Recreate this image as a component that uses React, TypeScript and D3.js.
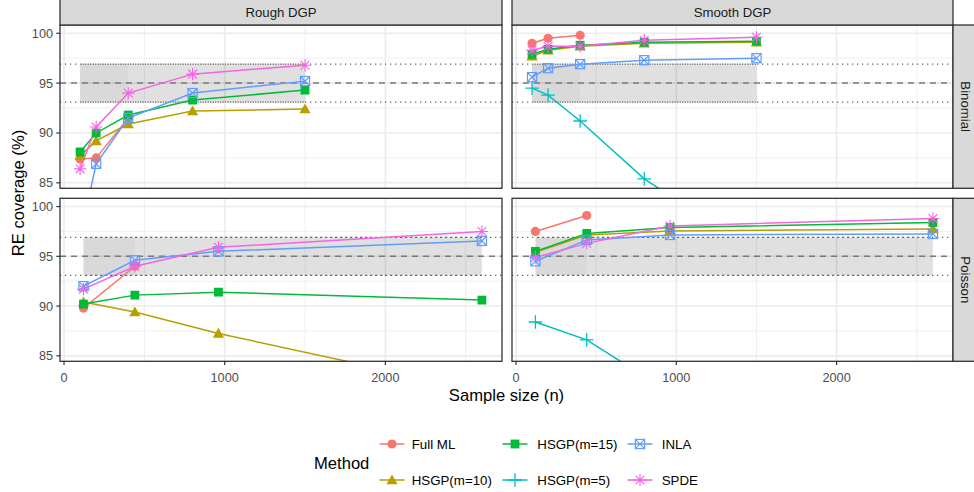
import React from 'react';
import * as d3 from 'd3';

// methods, in legend (alphabetical) order
const methods = ['Full ML', 'HSGP(m=10)', 'HSGP(m=15)', 'HSGP(m=5)', 'INLA', 'SPDE'];
const methodColors = ['#F8766D', '#B79F00', '#00BA38', '#00BFC4', '#619CFF', '#F564E3'];
const methodShapes = ['circle', 'triangle', 'square', 'plus', 'boxx', 'asterisk'];

const dgps = ['Rough DGP', 'Smooth DGP'];
const families = ['Binomial', 'Poisson'];

const nBinomial = [100, 200, 400, 800, 1500];
const nPoisson = [121, 441, 961, 2601];

// coverage (%) per method (rows follow `methods`), columns follow the n arrays
const roughBinomial = [
  [87.4, 87.5, 91.5, null, null],
  [87.7, 89.2, 90.9, 92.2, 92.4],
  [88.1, 90.0, 91.8, 93.3, 94.3],
  [null, null, null, null, null],
  [79.5, 86.9, 91.5, 94.0, 95.2],
  [86.4, 90.6, 94.0, 95.9, 96.8],
];
const smoothBinomial = [
  [99.0, 99.5, 99.8, null, null],
  [97.7, 98.3, 98.7, 99.0, 99.1],
  [97.9, 98.4, 98.8, 99.1, 99.2],
  [94.5, 93.8, 91.2, 85.4, 78.0],
  [95.6, 96.5, 96.9, 97.3, 97.5],
  [98.3, 98.7, 98.7, 99.3, 99.6],
];
const roughPoisson = [
  [89.8, 94.0, null, null],
  [90.4, 89.4, 87.25, 81.5],
  [90.2, 91.1, 91.4, 90.6],
  [null, null, null, null],
  [92.0, 94.6, 95.5, 96.55],
  [91.7, 94.0, 95.9, 97.5],
];
const smoothPoisson = [
  [97.5, 99.1, null, null],
  [95.4, 97.15, 97.55, 97.75],
  [95.5, 97.3, 97.9, 98.4],
  [88.4, 86.6, 81.3, 76.0],
  [94.5, 96.65, 97.15, 97.25],
  [94.9, 96.3, 98.05, 98.8],
];

const nominal = 95;
const mcBand = [93.09, 96.91];
const yTicks = [85, 90, 95, 100];
const yMinor = [87.5, 92.5, 97.5];
const xTicks = [0, 1000, 2000];
const xMinor = [500, 1500, 2500];

const panels = [
  { row: 0, col: 0, n: nBinomial, vals: roughBinomial },
  { row: 0, col: 1, n: nBinomial, vals: smoothBinomial },
  { row: 1, col: 0, n: nPoisson, vals: roughPoisson },
  { row: 1, col: 1, n: nPoisson, vals: smoothPoisson },
];

const panelX = [[60, 502], [512, 953]];
const panelY = [[25, 188.3], [198.3, 361.3]];
const font = '"Liberation Sans", Arial, sans-serif';

const allN = [...nBinomial, ...nPoisson];
const nExt = d3.extent(allN) as [number, number];
const pad = (nExt[1] - nExt[0]) * 0.05;
const xScales = panelX.map((r) => d3.scaleLinear().domain([nExt[0] - pad, nExt[1] + pad]).range(r));
const yScales = panelY.map((r) => d3.scaleLinear().domain([84.45, 100.83]).range([r[1], r[0]]));

function Marker({ shape, x, y, color }: { shape: string; x: number; y: number; color: string }) {
  switch (shape) {
    case 'circle':
      return <circle cx={x} cy={y} r={4.6} fill={color} />;
    case 'triangle':
      return <path d={`M${x},${y - 5.6}L${x + 5.6},${y + 4.2}L${x - 5.6},${y + 4.2}Z`} fill={color} />;
    case 'square':
      return <rect x={x - 4.4} y={y - 4.4} width={8.8} height={8.8} fill={color} />;
    case 'plus':
      return (
        <path d={`M${x - 6.8},${y}H${x + 6.8}M${x},${y - 6.8}V${y + 6.8}`} stroke={color} strokeWidth={1.3} />
      );
    case 'boxx':
      return (
        <g stroke={color} strokeWidth={1.2} fill="none">
          <rect x={x - 4.6} y={y - 4.6} width={9.2} height={9.2} />
          <path d={`M${x - 4.6},${y - 4.6}L${x + 4.6},${y + 4.6}M${x + 4.6},${y - 4.6}L${x - 4.6},${y + 4.6}`} />
        </g>
      );
    default:
      return (
        <path
          d={`M${x - 6.2},${y}H${x + 6.2}M${x},${y - 6.2}V${y + 6.2}M${x - 4.4},${y - 4.4}L${x + 4.4},${y + 4.4}M${x + 4.4},${y - 4.4}L${x - 4.4},${y + 4.4}`}
          stroke={color}
          strokeWidth={1.1}
        />
      );
  }
}

export default function App() {
  return (
    <svg
      width={974}
      height={492}
      style={{ position: 'absolute', left: 0, top: 0, background: '#fff', fontFamily: font }}
    >
      <defs>
        {panels.map((p, i) => (
          <clipPath id={`clip${i}`} key={i}>
            <rect
              x={panelX[p.col][0]}
              y={panelY[p.row][0]}
              width={panelX[p.col][1] - panelX[p.col][0]}
              height={panelY[p.row][1] - panelY[p.row][0]}
            />
          </clipPath>
        ))}
      </defs>

      {panels.map((p, i) => {
        const x = xScales[p.col];
        const y = yScales[p.row];
        const [x0, x1] = panelX[p.col];
        const [y0, y1] = panelY[p.row];
        const line = d3
          .line<[number, number | null]>()
          .defined((d) => d[1] != null)
          .x((d) => x(d[0]))
          .y((d) => y(d[1] as number));
        const present = p.vals.map((v) => v.some((d) => d != null));
        const fullML = p.vals[0];
        const fmLast = p.n[fullML.reduce((a, d, j) => (d != null ? j : a), 0)];
        return (
          <g key={i}>
            <rect x={x0} y={y0} width={x1 - x0} height={y1 - y0} fill="#fff" />
            <g clipPath={`url(#clip${i})`}>
              {xMinor.map((t) => (
                <line key={'xm' + t} x1={x(t)} x2={x(t)} y1={y0} y2={y1} stroke="#ebebeb" strokeWidth={0.8} />
              ))}
              {yMinor.map((t) => (
                <line key={'ym' + t} x1={x0} x2={x1} y1={y(t)} y2={y(t)} stroke="#ebebeb" strokeWidth={0.8} />
              ))}
              {xTicks.map((t) => (
                <line key={'x' + t} x1={x(t)} x2={x(t)} y1={y0} y2={y1} stroke="#ebebeb" strokeWidth={1.6} />
              ))}
              {yTicks.map((t) => (
                <line key={'y' + t} x1={x0} x2={x1} y1={y(t)} y2={y(t)} stroke="#ebebeb" strokeWidth={1.6} />
              ))}
              {/* Monte Carlo band */}
              <rect
                x={x(p.n[0])}
                y={y(mcBand[1])}
                width={x(p.n[p.n.length - 1]) - x(p.n[0])}
                height={y(mcBand[0]) - y(mcBand[1])}
                fill="#000"
                fillOpacity={0.12}
              />
              <rect
                x={x(p.n[0])}
                y={y(mcBand[1])}
                width={x(fmLast) - x(p.n[0])}
                height={y(mcBand[0]) - y(mcBand[1])}
                fill="#000"
                fillOpacity={0.03}
              />
              {mcBand.map((b) => (
                <g key={b}>
                  <line x1={x0} x2={x1} y1={y(b)} y2={y(b)} stroke="#666" strokeWidth={1.3} strokeDasharray="1.3 3.7" />
                  <line
                    x1={x(p.n[0])}
                    x2={x(p.n[p.n.length - 1])}
                    y1={y(b)}
                    y2={y(b)}
                    stroke="#666"
                    strokeWidth={1.3}
                    strokeDasharray="1.3 3.7"
                    strokeDashoffset={2.5}
                  />
                </g>
              ))}
              <line x1={x0} x2={x1} y1={y(nominal)} y2={y(nominal)} stroke="#7a7a7a" strokeWidth={1.5} strokeDasharray="6 5" />
              {p.vals.map((v, m) =>
                present[m] ? (
                  <path
                    key={'l' + m}
                    d={line(p.n.map((n, j) => [n, v[j]] as [number, number | null])) || ''}
                    fill="none"
                    stroke={methodColors[m]}
                    strokeWidth={1.5}
                  />
                ) : null
              )}
              {p.vals.map((v, m) =>
                v.map((d, j) =>
                  d == null ? null : (
                    <Marker key={'p' + m + '-' + j} shape={methodShapes[m]} x={x(p.n[j])} y={y(d)} color={methodColors[m]} />
                  )
                )
              )}
            </g>
            <rect x={x0} y={y0} width={x1 - x0} height={y1 - y0} fill="none" stroke="#333" strokeWidth={1.3} />
          </g>
        );
      })}

      {/* top strips */}
      {dgps.map((d, c) => (
        <g key={d}>
          <rect x={panelX[c][0]} y={-1} width={panelX[c][1] - panelX[c][0]} height={26} fill="#d9d9d9" stroke="#333" strokeWidth={1.3} />
          <text x={(panelX[c][0] + panelX[c][1]) / 2} y={17} textAnchor="middle" fontSize={13.2} fill="#1a1a1a">
            {d}
          </text>
        </g>
      ))}
      {/* right strips */}
      {families.map((f, r) => (
        <g key={f}>
          <rect x={953} y={panelY[r][0]} width={30} height={panelY[r][1] - panelY[r][0]} fill="#d9d9d9" stroke="#333" strokeWidth={1.3} />
          <text
            transform={`translate(960.5,${(panelY[r][0] + panelY[r][1]) / 2}) rotate(90)`}
            textAnchor="middle"
            fontSize={13.2}
            fill="#1a1a1a"
          >
            {f}
          </text>
        </g>
      ))}

      {/* y axes */}
      {panelY.map((_, r) =>
        yTicks.map((t) => (
          <g key={r + '-' + t}>
            <line x1={56.3} x2={60} y1={yScales[r](t)} y2={yScales[r](t)} stroke="#333" strokeWidth={1.2} />
            <text x={53} y={yScales[r](t) + 4.5} textAnchor="end" fontSize={12.7} fill="#4d4d4d">
              {t}
            </text>
          </g>
        ))
      )}
      {/* x axes */}
      {panelX.map((_, c) =>
        xTicks.map((t) => (
          <g key={c + '-' + t}>
            <line x1={xScales[c](t)} x2={xScales[c](t)} y1={361.3} y2={365} stroke="#333" strokeWidth={1.2} />
            <text x={xScales[c](t)} y={381.5} textAnchor="middle" fontSize={12.7} fill="#4d4d4d">
              {t}
            </text>
          </g>
        ))
      )}

      <text x={506.5} y={401} textAnchor="middle" fontSize={16.6} fill="#000">
        Sample size (n)
      </text>
      <text transform="translate(23.5,193) rotate(-90)" textAnchor="middle" fontSize={16.6} fill="#000">
        RE coverage (%)
      </text>

      {/* legend */}
      <text x={314} y={468.5} fontSize={16.6} fill="#000">
        Method
      </text>
      {methods.map((m, i) => {
        const col = Math.floor(i / 2);
        const row = i % 2;
        const kx = [392, 515, 640][col];
        const lx = [411.7, 537.3, 661.7][col];
        const ky = [444, 480][row];
        return (
          <g key={m}>
            <line x1={kx - 12.5} x2={kx + 12.5} y1={ky} y2={ky} stroke={methodColors[i]} strokeWidth={1.5} />
            <Marker shape={methodShapes[i]} x={kx} y={ky} color={methodColors[i]} />
            <text x={lx} y={ky + 4.7} fontSize={13.3} fill="#000">
              {m}
            </text>
          </g>
        );
      })}
    </svg>
  );
}
